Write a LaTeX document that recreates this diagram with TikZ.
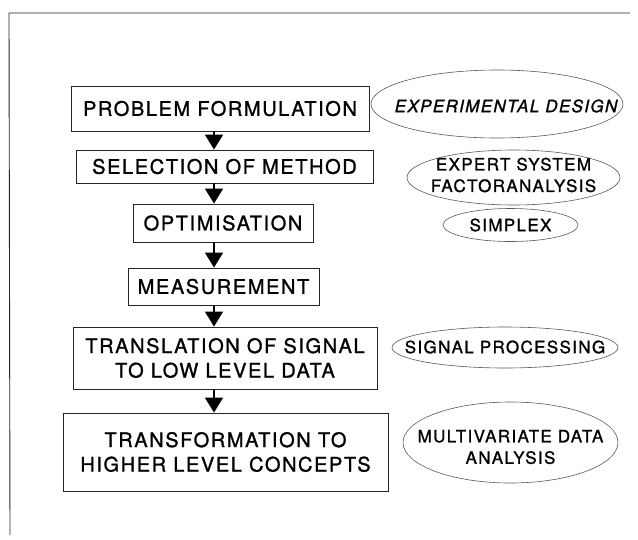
\documentclass[tikz,border=0pt]{standalone}
\usepackage{fontspec}
\setmainfont{TeX Gyre Heros}
\newfontfamily\boxfont{TeX Gyre Heros}[LetterSpace=8,FakeBold=1.2]
\newfontfamily\ellfont{TeX Gyre Heros}[LetterSpace=8,FakeBold=1.2]
\usetikzlibrary{arrows.meta}
\begin{document}
\begin{tikzpicture}[x=1pt,y=-1pt,
  stepbox/.style={draw=black!85, line width=0.9pt, inner sep=0pt, align=center,
    font=\boxfont\fontsize{20}{24.5}\selectfont},
  elltext/.style={inner sep=0pt, align=center, font=\ellfont\fontsize{17}{21.5}\selectfont},
  ellline/.style={draw=black!65, line width=0.6pt},
  arr/.style={line width=1.8pt, -{Triangle[width=18pt,length=15pt]}},
  frameline/.style={line width=0.9pt, draw=black!85}]
\useasboundingbox (0,0) rectangle (638,539);
% frame
\coordinate (ftl) at (9,13);
\coordinate (ftr) at (630,13);
\coordinate (fbl) at (10,535);
\draw[frameline] (ftr) -- (ftl) -- (fbl);
% boxes
\node[stepbox, minimum width=298pt, minimum height=45pt] (b1) at (220,108.5) {PROBLEM FORMULATION};
\node[stepbox, minimum width=297pt, minimum height=33pt] (b2) at (224.5,166.5) {SELECTION OF METHOD};
\node[stepbox, minimum width=180pt, minimum height=38pt] (b3) at (223,223) {OPTIMISATION};
\node[stepbox, minimum width=191pt, minimum height=37pt] (b4) at (223.5,286.5) {MEASUREMENT};
\node[stepbox, minimum width=304pt, minimum height=62pt] (b5) at (225,358) {TRANSLATION OF SIGNAL\\TO LOW LEVEL DATA};
\node[stepbox, minimum width=325pt, minimum height=78pt] (b6) at (225.5,452) {TRANSFORMATION TO\\HIGHER LEVEL CONCEPTS};
% arrows
\coordinate (ax) at (214,0);
\draw[arr] (b1.south -| ax) -- (b2.north -| ax);
\draw[arr] (b2.south -| ax) -- (b3.north -| ax);
\draw[arr] (b3.south -| ax) -- (b4.north -| ax);
\draw[arr] (b4.south -| ax) -- (b5.north -| ax);
\draw[arr] (b5.south -| ax) -- (b6.north -| ax);
% ellipses
\node[elltext, font=\ellfont\itshape\fontsize{17}{21.5}\selectfont] (e1) at (506,106) {EXPERIMENTAL DESIGN};
\draw[ellline] (497,104) ellipse [x radius=126pt, y radius=34pt];
\node[elltext] (e2) at (513.5,175) {EXPERT SYSTEM\\FACTORANALYSIS};
\draw[ellline] (513.5,177.5) ellipse [x radius=106.5pt, y radius=27.5pt];
\node[elltext] (e3) at (510.5,225) {SIMPLEX};
\draw[ellline] (e3.center) ellipse [x radius=67.5pt, y radius=16.5pt];
\node[elltext] (e4) at (505,347) {SIGNAL PROCESSING};
\draw[ellline] (505,347.5) ellipse [x radius=113pt, y radius=20.5pt];
\node[elltext] (e5) at (510.5,447) {MULTIVARIATE DATA\\ANALYSIS};
\draw[ellline] (510.5,442.5) ellipse [x radius=107.5pt, y radius=40.5pt];
\end{tikzpicture}
\end{document}
